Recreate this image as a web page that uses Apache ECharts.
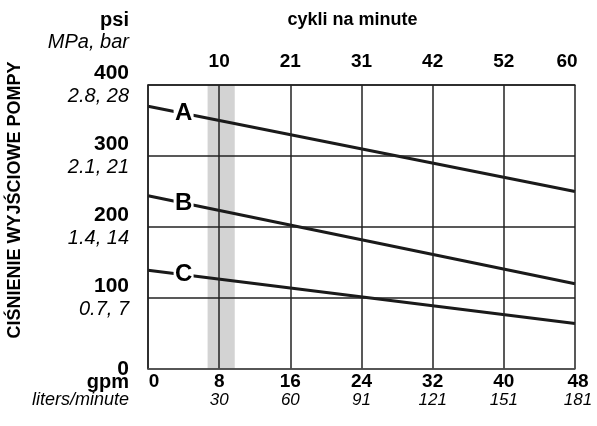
<!DOCTYPE html>
<html>
<head>
<meta charset="utf-8">
<script src="https://cdn.jsdelivr.net/npm/echarts@6/dist/echarts.min.js"></script>
<style>html,body{margin:0;padding:0;background:#fff}#c{width:597px;height:426px}</style>
</head>
<body>
<div id="c"></div>
<script>
// ---- data ----
const gpmMin = 0, gpmMax = 48, gpmStep = 8;
const litersLabels = ['', '30', '60', '91', '121', '151', '181'];
const cycleLabels = ['', '10', '21', '31', '42', '52', '60'];
const psiMin = 0, psiMax = 400, psiStep = 100;
const mpaLabels = ['', '0.7, 7', '1.4, 14', '2.1, 21', '2.8, 28'];
const lineA = [[0, 370], [48, 250]];
const lineB = [[0, 244], [48, 120]];
const lineC = [[0, 139], [48, 64]];
const seriesNames = ['A', 'B', 'C'];
const bandRange = [6.7, 9.75];
const letterAt = 4;

const FONT = '"Liberation Sans", Arial, sans-serif';

function interp(line, x) {
  const [p0, p1] = line;
  return p0[1] + (p1[1] - p0[1]) * (x - p0[0]) / (p1[0] - p0[0]);
}

function makeSeries(name, data, withBand) {
  const s = {
    type: 'line',
    name: name,
    data: data,
    symbol: 'none',
    lineStyle: { color: '#1a1a1a', width: 3 },
    silent: true,
    z: 2,
    markPoint: {
      silent: true,
      symbol: 'rect',
      symbolSize: [20, 22],
      itemStyle: { color: '#fff' },
      label: {
        show: true, position: 'inside', formatter: p => p.name,
        color: '#000', fontFamily: FONT, fontWeight: 'bold', fontSize: 24
      },
      data: [{ name: name, coord: [letterAt, interp(data, letterAt)] }]
    }
  };
  if (withBand) {
    s.markArea = {
      silent: true,
      itemStyle: { color: '#d3d3d3' },
      data: [[{ xAxis: bandRange[0] }, { xAxis: bandRange[1] }]]
    };
  }
  return s;
}

const chart = echarts.init(document.getElementById('c'), null, { renderer: 'canvas' });
chart.setOption({
  animation: false,
  backgroundColor: '#fff',
  grid: { left: 148, top: 85, width: 427, height: 284, containLabel: false },
  xAxis: [
    {
      type: 'value', position: 'bottom', min: gpmMin, max: gpmMax, interval: gpmStep, z: 3,
      axisLine: { show: true, lineStyle: { color: '#555', width: 1.5 } },
      axisTick: { show: false },
      splitLine: { show: true, lineStyle: { color: '#222', width: 1.5 } },
      axisLabel: {
        margin: 4,
        formatter: v => {
          const i = Math.round(v / gpmStep);
          if (i === 0) return '{z|' + v + '}';
          if (i === litersLabels.length - 1) return '{l|' + v + '}\n{il|' + litersLabels[i] + '}';
          return '{b|' + v + '}\n{i|' + litersLabels[i] + '}';
        },
        rich: {
          b: { fontFamily: FONT, fontWeight: 'bold', fontSize: 19, lineHeight: 18, color: '#000' },
          l: { fontFamily: FONT, fontWeight: 'bold', fontSize: 19, lineHeight: 18, color: '#000', padding: [0, 0, 0, 6] },
          z: { fontFamily: FONT, fontWeight: 'bold', fontSize: 19, lineHeight: 18, color: '#000', padding: [0, 0, 0, 12] },
          i: { fontFamily: FONT, fontStyle: 'italic', fontSize: 17, lineHeight: 18, color: '#000' },
          il: { fontFamily: FONT, fontStyle: 'italic', fontSize: 17, lineHeight: 18, color: '#000', padding: [0, 0, 0, 6] }
        }
      }
    },
    {
      type: 'value', position: 'top', min: gpmMin, max: gpmMax, interval: gpmStep, z: 3,
      name: 'cykli na minute', nameLocation: 'middle', nameGap: 56,
      nameTextStyle: { fontFamily: FONT, fontWeight: 'bold', fontSize: 18, color: '#000', padding: [0, 18, 0, 0] },
      axisLine: { show: true, lineStyle: { color: '#222', width: 1.5 } },
      axisTick: { show: false },
      splitLine: { show: false },
      axisLabel: {
        margin: 13,
        formatter: v => {
          const i = Math.round(v / gpmStep);
          if (i === cycleLabels.length - 1) return '{e|' + cycleLabels[i] + '}';
          return '{b|' + cycleLabels[i] + '}';
        },
        rich: {
          b: { fontFamily: FONT, fontWeight: 'bold', fontSize: 19, lineHeight: 20, color: '#000' },
          e: { fontFamily: FONT, fontWeight: 'bold', fontSize: 19, lineHeight: 20, color: '#000', padding: [0, 16, 0, 0] }
        }
      }
    }
  ],
  yAxis: {
    type: 'value', min: psiMin, max: psiMax, interval: psiStep, z: 3,
    axisLine: { show: true, lineStyle: { color: '#222', width: 1.5 } },
    axisTick: { show: false },
    splitLine: { show: true, lineStyle: { color: '#222', width: 1.5 } },
    axisLabel: {
      margin: 19,
      formatter: v => {
        const i = Math.round(v / psiStep);
        if (i === 0) return '{b|' + v + '}';
        return '{b|' + v + '}\n{i|' + mpaLabels[i] + '}';
      },
      rich: {
        b: { fontFamily: FONT, fontWeight: 'bold', fontSize: 21, lineHeight: 23, color: '#000', align: 'right' },
        i: { fontFamily: FONT, fontStyle: 'italic', fontSize: 20, lineHeight: 23, color: '#000', align: 'right' }
      }
    }
  },
  graphic: [
    { type: 'text', x: 15, y: 200, rotation: Math.PI / 2, silent: true,
      style: { text: 'CIŚNIENIE WYJŚCIOWE POMPY', font: 'bold 18px ' + FONT, align: 'center', verticalAlign: 'middle', fill: '#000' } },
    { type: 'text', x: 129, y: 20, silent: true,
      style: { text: 'psi', font: 'bold 20px ' + FONT, align: 'right', verticalAlign: 'middle', fill: '#000' } },
    { type: 'text', x: 129, y: 42, silent: true,
      style: { text: 'MPa, bar', font: 'italic 20px ' + FONT, align: 'right', verticalAlign: 'middle', fill: '#000' } },
    { type: 'text', x: 129, y: 382, silent: true,
      style: { text: 'gpm', font: 'bold 20px ' + FONT, align: 'right', verticalAlign: 'middle', fill: '#000' } },
    { type: 'text', x: 129, y: 400, silent: true,
      style: { text: 'liters/minute', font: 'italic 18px ' + FONT, align: 'right', verticalAlign: 'middle', fill: '#000' } }
  ],
  series: [
    makeSeries(seriesNames[0], lineA, true),
    makeSeries(seriesNames[1], lineB, false),
    makeSeries(seriesNames[2], lineC, false)
  ]
});
</script>
</body>
</html>
